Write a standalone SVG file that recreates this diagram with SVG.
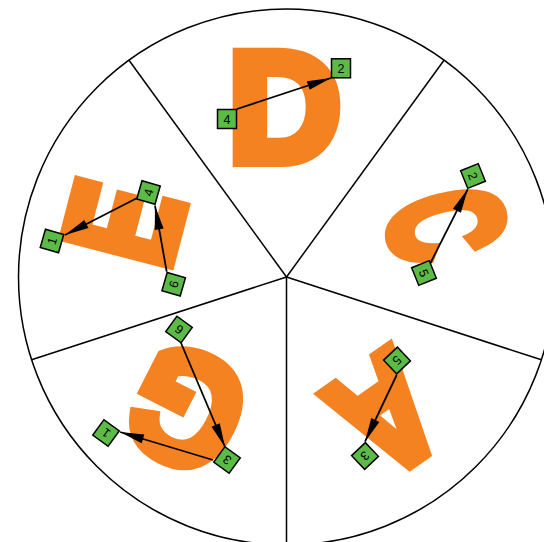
<svg xmlns="http://www.w3.org/2000/svg" width="544" height="542" viewBox="0 0 544 542">
<defs>
<style>
.ring{fill:none;stroke:#000;stroke-width:1.5}
.sep{stroke:#000;stroke-width:1.5}
.let{fill:#F58220;stroke:#F58220;stroke-width:12;stroke-linejoin:miter;font-family:"Liberation Sans",Arial,sans-serif;font-weight:bold;font-size:156px;text-anchor:middle}
.sq{fill:#5BBB46;stroke:#000;stroke-width:1.5}
.num{fill:#000;font-family:"Liberation Sans",Arial,sans-serif;font-size:12.5px;text-anchor:middle}
.arr{stroke:#000;stroke-width:1.8;fill:none;marker-end:url(#ah)}
</style>
<marker id="ah" markerUnits="userSpaceOnUse" markerWidth="26" markerHeight="12" viewBox="-25 -6 26 12" refX="0" refY="0" orient="auto">
<path d="M0,0 L-24,-4.5 L-24,4.5 z" fill="#000"/>
</marker>
</defs>
<g id="frame">
<circle class="ring" cx="286.5" cy="277" r="268"/>
<line class="sep" x1="286.5" y1="277" x2="129.0" y2="60.2"/>
<line class="sep" x1="286.5" y1="277" x2="444.0" y2="60.2"/>
<line class="sep" x1="286.5" y1="277" x2="541.4" y2="359.8"/>
<line class="sep" x1="286.5" y1="277" x2="286.5" y2="545"/>
<line class="sep" x1="286.5" y1="277" x2="31.6" y2="359.8"/>
</g>
<g id="letter-D"><text class="let" transform="translate(286,104.5)" x="-1.5" y="56">D</text></g>
<g id="letter-C"><text class="let" transform="translate(448,224) rotate(76) scale(0.57,1.02)" x="0" y="56">C</text></g>
<g id="letter-A"><text class="let" transform="translate(388,417) rotate(145) scale(0.79,1)" x="0" y="56">A</text></g>
<g id="letter-G"><text class="let" transform="translate(185,411) rotate(207) scale(0.89,1)" x="0" y="56">G</text></g>
<g id="letter-E"><text class="let" transform="translate(122,222) rotate(-75.4) scale(0.7,1)" x="-1" y="56">E</text></g>
<g id="connectors">
<line class="arr" x1="237" y1="109" x2="331" y2="78"/>
<line class="arr" x1="430" y1="264" x2="467.7" y2="189.3"/>
<line class="arr" x1="396.7" y1="375" x2="365" y2="441.7"/>
<line class="arr" x1="181" y1="343" x2="225" y2="447"/>
<line class="arr" x1="213" y1="460" x2="120" y2="432"/>
<line class="arr" x1="136.7" y1="198.3" x2="65" y2="235"/>
<line class="arr" x1="166.7" y1="271.7" x2="155" y2="205.7"/>
</g>
<g id="D-4" transform="translate(227,119)"><rect class="sq" x="-9.5" y="-9.5" width="19" height="19"/><text class="num" y="4.5">4</text></g>
<g id="D-2" transform="translate(341,68.3)"><rect class="sq" x="-9.5" y="-9.5" width="19" height="19"/><text class="num" y="4.5">2</text></g>
<g id="C-2" transform="translate(473,176) rotate(68)"><rect class="sq" x="-9.5" y="-9.5" width="19" height="19"/><text class="num" y="4.5">2</text></g>
<g id="C-5" transform="translate(424,273) rotate(68)"><rect class="sq" x="-9.5" y="-9.5" width="19" height="19"/><text class="num" y="4.5">5</text></g>
<g id="A-5" transform="translate(397,360.5) rotate(136.5)"><rect class="sq" x="-9.5" y="-9.5" width="19" height="19"/><text class="num" y="4.5">5</text></g>
<g id="A-3" transform="translate(365,456) rotate(136.5)"><rect class="sq" x="-9.5" y="-9.5" width="19" height="19"/><text class="num" y="4.5">3</text></g>
<g id="G-6" transform="translate(179,329.5) rotate(216)"><rect class="sq" x="-9.5" y="-9.5" width="19" height="19"/><text class="num" y="4.5">6</text></g>
<g id="G-3" transform="translate(227,460) rotate(216)"><rect class="sq" x="-9.5" y="-9.5" width="19" height="19"/><text class="num" y="4.5">3</text></g>
<g id="G-1" transform="translate(106,433) rotate(216)"><rect class="sq" x="-9.5" y="-9.5" width="19" height="19"/><text class="num" y="4.5">1</text></g>
<g id="E-4" transform="translate(148.5,192.5) rotate(-74)"><rect class="sq" x="-9.5" y="-9.5" width="19" height="19"/><text class="num" y="4.5">4</text></g>
<g id="E-1" transform="translate(52,241) rotate(-74)"><rect class="sq" x="-9.5" y="-9.5" width="19" height="19"/><text class="num" y="4.5">1</text></g>
<g id="E-6" transform="translate(173.7,284.3) rotate(-74)"><rect class="sq" x="-9.5" y="-9.5" width="19" height="19"/><text class="num" y="4.5">6</text></g>
</svg>
